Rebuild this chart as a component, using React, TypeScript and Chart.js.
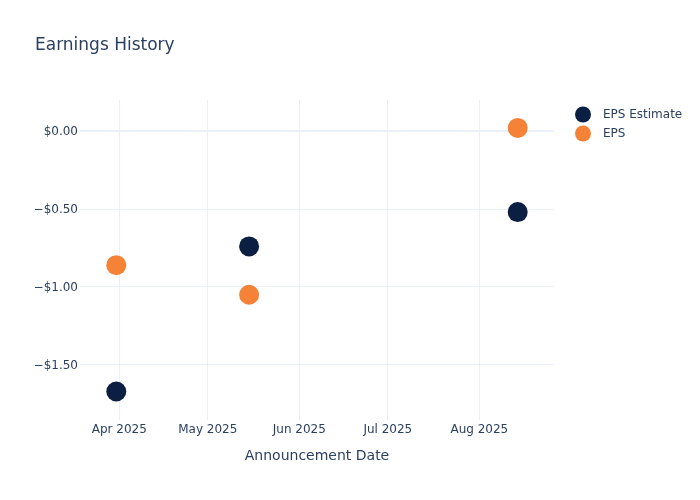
import { useEffect, useRef } from "react";
import { Chart, registerables } from "chart.js";

Chart.register(...registerables);

// ---- data ----
const announcementDates = ["2025-03-31", "2025-05-15", "2025-08-14"];
const epsEstimate = [-1.67, -0.74, -0.52];
const epsActual = [-0.86, -1.05, 0.02];
const seriesLabels = ["EPS Estimate", "EPS"];
const seriesColors = ["#0b1f42", "#f58337"];

const monthTickDates = ["2025-04-01", "2025-05-01", "2025-06-01", "2025-07-01", "2025-08-01"];
const monthTickLabels = ["Apr 2025", "May 2025", "Jun 2025", "Jul 2025", "Aug 2025"];
const yTickValues = [-1.5, -1.0, -0.5, 0.0];
const xRange = ["2025-03-18T17:00:00Z", "2025-08-26T07:00:00Z"];
const yRange = [-1.853, 0.199];

const TEXT = "#2a3f5f";
const GRID = "#ebf0f8";
const FONT = "'DejaVu Sans', Verdana, sans-serif";

function fmtMoney(v: number): string {
  const s = "$" + Math.abs(v).toFixed(2);
  return v < -1e-9 ? "\u2212" + s : s;
}

const legendPlugin = {
  id: "plotlyLegend",
  afterDraw(chart: any) {
    const ctx = chart.ctx;
    const area = chart.chartArea;
    chart.data.datasets.forEach((ds: any, i: number) => {
      const cx = area.right + 29;
      const cy = area.top + 14.5 + i * 19;
      ctx.save();
      ctx.beginPath();
      ctx.arc(cx, cy, 8, 0, Math.PI * 2);
      ctx.fillStyle = ds.backgroundColor;
      ctx.fill();
      ctx.fillStyle = TEXT;
      ctx.font = `12px ${FONT}`;
      ctx.textBaseline = "middle";
      ctx.textAlign = "left";
      ctx.fillText(ds.label, cx + 20, cy + 0.5);
      ctx.restore();
    });
  },
};

export default function App() {
  const ref = useRef<HTMLCanvasElement | null>(null);

  useEffect(() => {
    if (!ref.current) return;
    Chart.defaults.font.family = FONT;
    const toPoints = (vals: number[]) =>
      vals.map((v, i) => ({ x: Date.parse(announcementDates[i]), y: v }));
    const monthValues = monthTickDates.map((d) => Date.parse(d));

    const chart = new Chart(ref.current, {
      type: "scatter",
      data: {
        datasets: [
          {
            label: seriesLabels[0],
            data: toPoints(epsEstimate),
            backgroundColor: seriesColors[0],
            borderColor: seriesColors[0],
            borderWidth: 0,
            pointRadius: 10,
            pointHoverRadius: 10,
          },
          {
            label: seriesLabels[1],
            data: toPoints(epsActual),
            backgroundColor: seriesColors[1],
            borderColor: seriesColors[1],
            borderWidth: 0,
            pointRadius: 10,
            pointHoverRadius: 10,
          },
        ],
      },
      options: {
        animation: false,
        responsive: false,
        maintainAspectRatio: false,
        layout: { padding: { left: 35, right: 146, top: 0, bottom: 0 } },
        plugins: {
          legend: { display: false },
          tooltip: { enabled: false },
          title: {
            display: true,
            text: "Earnings History",
            align: "start",
            color: TEXT,
            font: { size: 17, weight: "normal", family: FONT },
            padding: { top: 35, bottom: 44.6 },
          },
        },
        scales: {
          x: {
            type: "linear",
            min: Date.parse(xRange[0]),
            max: Date.parse(xRange[1]),
            afterBuildTicks: (scale: any) => {
              scale.ticks = monthValues.map((v) => ({ value: v }));
            },
            afterFit: (scale: any) => {
              scale.height = 80;
            },
            ticks: {
              autoSkip: false,
              maxRotation: 0,
              padding: 3,
              color: TEXT,
              font: { size: 12, family: FONT },
              callback: (value: any) => {
                const idx = monthValues.indexOf(Number(value));
                return idx >= 0 ? monthTickLabels[idx] : "";
              },
            },
            grid: { color: GRID, lineWidth: 1, drawTicks: false },
            border: { display: false },
            title: {
              display: true,
              text: "Announcement Date",
              color: TEXT,
              font: { size: 14, family: FONT },
              padding: { top: 0, bottom: 35.6 },
            },
          },
          y: {
            type: "linear",
            min: yRange[0],
            max: yRange[1],
            afterBuildTicks: (scale: any) => {
              scale.ticks = yTickValues.map((v) => ({ value: v }));
            },
            afterFit: (scale: any) => {
              scale.width = 45;
            },
            ticks: {
              padding: 2,
              labelOffset: 1,
              color: TEXT,
              font: { size: 12, family: FONT },
              callback: (value: any) => fmtMoney(Number(value)),
            },
            grid: {
              color: GRID,
              lineWidth: (c: any) => (c.tick && Math.abs(c.tick.value) < 1e-9 ? 2 : 1),
              drawTicks: false,
            },
            border: { display: false },
          },
        },
      },
      plugins: [legendPlugin],
    });

    return () => chart.destroy();
  }, []);

  return (
    <div style={{ position: "fixed", left: 0, top: 0, width: 700, height: 500, background: "#fff" }}>
      <canvas ref={ref} width={700} height={500} style={{ width: 700, height: 500 }} />
    </div>
  );
}
